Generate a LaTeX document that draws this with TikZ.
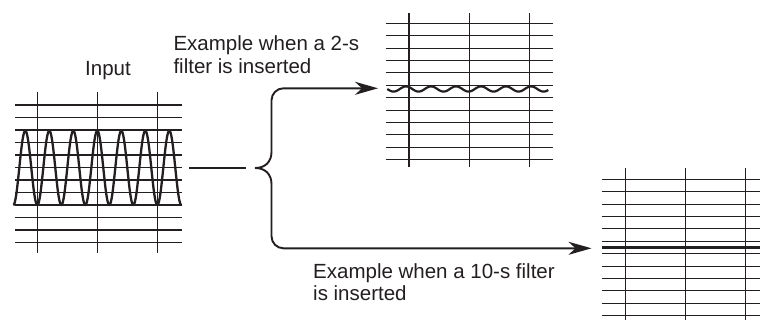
\documentclass[tikz,border=0pt]{standalone}
\usepackage{fontspec}
\setmainfont{Liberation Sans}
\usetikzlibrary{arrows.meta}
\definecolor{ink}{HTML}{231F20}
\tikzset{
  gridline/.style={draw=ink, line width=1.1pt},
  signal/.style={draw=ink, line width=2.3pt, line join=round},
  conn/.style={draw=ink, line width=1.9pt},
  arr/.style={conn, -{Stealth[length=23pt,width=13pt,inset=7pt]}},
  lbl/.style={inner sep=0pt, anchor=base west, text=ink, font=\fontsize{20.5pt}{22.7pt}\selectfont},
  gridbox/.style={inner sep=0pt, draw=none}
}
\begin{document}
\begin{tikzpicture}[x=1pt,y=-1pt]
\useasboundingbox (0,0) rectangle (760,321);
% ---- input grid ----
\node[gridbox, minimum width=166.7pt, minimum height=161pt] (ingrid) at (98.3,172.5) {};
\foreach \k in {0,...,11} \draw[gridline] (15,105+12.5*\k) -- (181.7,105+12.5*\k);
\foreach \xx in {37.3,97.7,157.7} \draw[gridline] (\xx,92) -- (\xx,253);
\draw[signal] plot[variable=\t, domain=0:7, samples=400] ({13.3+24*\t},{167.85+37.15*cos(360*\t)});
\node[lbl] (inputlbl) at (85,75.7) {Input};
% ---- top grid (2-s) ----
\node[gridbox, minimum width=167pt, minimum height=153.7pt] (topgrid) at (469.2,90.2) {};
\foreach \k in {0,...,11} \draw[gridline] (385.7,23.3+12.4*\k) -- (552.7,23.3+12.4*\k);
\foreach \xx in {409,469.3,529.3} \draw[gridline] (\xx,13.3) -- (\xx,167);
\draw[signal, line width=2.2pt] plot[variable=\t, domain=0:6.44, samples=300] ({387.3+25*\t},{89+2.6*sin(360*\t)});
% ---- bottom grid (10-s) ----
\node[gridbox, minimum width=158.3pt, minimum height=151.7pt] (botgrid) at (680.85,244.2) {};
\foreach \k in {0,...,11} \draw[gridline] (601.7,179.3+12.4*\k) -- (760,179.3+12.4*\k);
\foreach \xx in {625.7,685.7,745.7} \draw[gridline] (\xx,168.3) -- (\xx,320);
\draw[signal, line width=2.6pt] (601.7,247.5) -- (760,247.5);
% ---- connectors ----
\coordinate (lineA) at (189,168);
\coordinate (lineB) at (245.5,168);
\coordinate (split) at (255,168);
\coordinate (topend) at (378,88.3);
\coordinate (botend) at (591.5,248.3);
\draw[conn] (lineA) -- (lineB);
\draw[arr] (split) .. controls (265,168) and (271.5,162) .. (271.5,152) -- (271.5,100.3)
  arc[start angle=180, end angle=90, radius=12pt] -- (topend);
\draw[arr] (split) .. controls (265,168) and (271.5,174) .. (271.5,184) -- (271.5,236.3)
  arc[start angle=180, end angle=270, radius=12pt] -- (botend);
% ---- labels ----
\node[lbl] (lbltwoa) at (173.3,50.7) {Example when a 2-s};
\node[lbl] (lbltwob) at (173.3,73.3) {filter is inserted};
\node[lbl] (lbltena) at (313,278.3) {Example when a 10-s filter};
\node[lbl] (lbltenb) at (313,300.7) {is inserted};
\end{tikzpicture}
\end{document}
